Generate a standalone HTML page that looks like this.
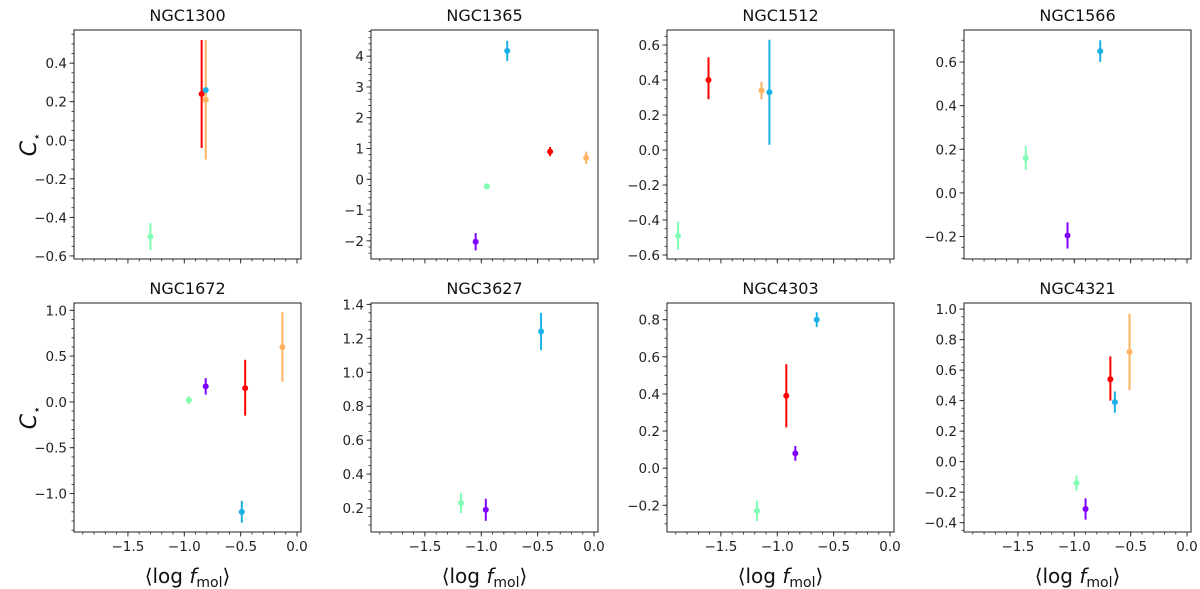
<!DOCTYPE html>
<html><head><meta charset="utf-8"><style>
body{margin:0;background:#fff;}
svg{display:block;font-family:"DejaVu Sans","Liberation Sans",sans-serif;}
</style></head><body>
<svg id="fig" width="1200" height="589" viewBox="0 0 1200 589"></svg>
<script>
const galaxies = ["NGC1300","NGC1365","NGC1512","NGC1566","NGC1672","NGC3627","NGC4303","NGC4321"];
const yLims = [[-0.616,0.572],[-2.59,4.85],[-0.623,0.686],[-0.303,0.747],[-1.42,1.08],[0.059,1.408],[-0.344,0.89],[-0.461,1.04]];
const yTickVals = [[-0.6,-0.4,-0.2,0.0,0.2,0.4],[-2,-1,0,1,2,3,4],[-0.6,-0.4,-0.2,0.0,0.2,0.4,0.6],[-0.2,0.0,0.2,0.4,0.6],[-1.0,-0.5,0.0,0.5,1.0],[0.2,0.4,0.6,0.8,1.0,1.2,1.4],[-0.2,0.0,0.2,0.4,0.6,0.8],[-0.4,-0.2,0.0,0.2,0.4,0.6,0.8,1.0]];
const yTickLabels = [["−0.6","−0.4","−0.2","0.0","0.2","0.4"],["−2","−1","0","1","2","3","4"],["−0.6","−0.4","−0.2","0.0","0.2","0.4","0.6"],["−0.2","0.0","0.2","0.4","0.6"],["−1.0","−0.5","0.0","0.5","1.0"],["0.2","0.4","0.6","0.8","1.0","1.2","1.4"],["−0.2","0.0","0.2","0.4","0.6","0.8"],["−0.4","−0.2","0.0","0.2","0.4","0.6","0.8","1.0"]];
const yMinorStep = [0.05,0.2,0.05,0.05,0.1,0.05,0.05,0.05];
const xLim = [-1.978,0.035];
const xTickVals = [-1.5,-1.0,-0.5,0.0];
const xTickLabels = ["−1.5","−1.0","−0.5","0.0"];
// per-galaxy series: [color, x, y, errLow, errHigh]
const seriesColors = {purple:"#8000ff",cyan:"#1ab2e6",green:"#80feb3",orange:"#ffb360",red:"#ff0000"};
const ngc1300 = [["green",-1.30,-0.50,-0.57,-0.43],["red",-0.846,0.24,-0.04,0.52],["orange",-0.81,0.21,-0.10,0.52],["cyan",-0.81,0.26,0.25,0.27]];
const ngc1365 = [["cyan",-0.77,4.17,3.84,4.50],["red",-0.39,0.90,0.75,1.05],["orange",-0.07,0.70,0.50,0.90],["green",-0.95,-0.23,-0.28,-0.18],["purple",-1.05,-2.03,-2.31,-1.75]];
const ngc1512 = [["red",-1.61,0.40,0.29,0.53],["orange",-1.14,0.34,0.29,0.39],["cyan",-1.07,0.33,0.03,0.63],["green",-1.88,-0.49,-0.57,-0.41]];
const ngc1566 = [["green",-1.43,0.16,0.105,0.215],["purple",-1.06,-0.195,-0.255,-0.135],["cyan",-0.77,0.65,0.60,0.70]];
const ngc1672 = [["green",-0.96,0.02,-0.02,0.06],["purple",-0.81,0.17,0.08,0.26],["red",-0.46,0.15,-0.15,0.46],["orange",-0.13,0.60,0.22,0.98],["cyan",-0.49,-1.20,-1.32,-1.08]];
const ngc3627 = [["cyan",-0.47,1.24,1.13,1.35],["green",-1.18,0.23,0.17,0.29],["purple",-0.96,0.19,0.125,0.255]];
const ngc4303 = [["cyan",-0.65,0.80,0.76,0.84],["red",-0.92,0.39,0.22,0.56],["purple",-0.84,0.08,0.04,0.12],["green",-1.18,-0.23,-0.285,-0.175]];
const ngc4321 = [["orange",-0.51,0.72,0.47,0.97],["red",-0.68,0.54,0.40,0.69],["cyan",-0.64,0.39,0.32,0.46],["green",-0.98,-0.14,-0.19,-0.09],["purple",-0.90,-0.31,-0.38,-0.24]];
const allSeries = [ngc1300,ngc1365,ngc1512,ngc1566,ngc1672,ngc3627,ngc4303,ngc4321];

const NS="http://www.w3.org/2000/svg";
const svg=document.getElementById('fig');
const colL=[74,371,667,964], W=227;
const rowT=[30,303], H=229;
function mk(tag,attrs,parent){const e=document.createElementNS(NS,tag);for(const k in attrs)e.setAttribute(k,attrs[k]);(parent||svg).appendChild(e);return e;}

for(let p=0;p<8;p++){
  const c=p%4, r=Math.floor(p/4);
  const L=colL[c], T=rowT[r];
  const g=mk('g',{});
  
  
  const xs=v=>L+(v-xLim[0])/(xLim[1]-xLim[0])*W;
  const [y0,y1]=yLims[p];
  const ys=v=>T+H-(v-y0)/(y1-y0)*H;
  const t=mk('text',{x:L+W/2,y:T-9,'text-anchor':'middle','font-size':16,fill:'#111'},g);
  t.textContent=galaxies[p];
  
  
  for(let v=-1.9;v<=0.0001;v+=0.1){const px=xs(v);mk('line',{x1:px,x2:px,y1:T+H,y2:T+H+2.5,stroke:'#222','stroke-width':0.8},g);}
  xTickVals.forEach((v,i)=>{const px=xs(v);mk('line',{x1:px,x2:px,y1:T+H,y2:T+H+4.5,stroke:'#222','stroke-width':0.9},g);
    if(r===1){const tl=mk('text',{x:px,y:T+H+19,'text-anchor':'middle','font-size':13.5,fill:'#222'},g);tl.textContent=xTickLabels[i];
      
      }});
  const ms=yMinorStep[p];
  for(let k=Math.ceil(y0/ms);k*ms<=y1;k++){const py=ys(k*ms);mk('line',{x1:L-2.5,x2:L,y1:py,y2:py,stroke:'#222','stroke-width':0.8},g);}
  yTickVals[p].forEach((v,i)=>{const py=ys(v);mk('line',{x1:L-4.5,x2:L,y1:py,y2:py,stroke:'#222','stroke-width':0.9},g);
    const tl=mk('text',{x:L-7,y:py+5,'text-anchor':'end','font-size':13.5,fill:'#222'},g);tl.textContent=yTickLabels[p][i];
    
    });
  allSeries[p].forEach(s=>{
    const col=seriesColors[s[0]], px=xs(s[1]);
    const eb=mk('line',{x1:px,x2:px,y1:ys(s[3]),y2:ys(s[4]),stroke:col,'stroke-width':2},g);
    
    
    const pt=mk('circle',{cx:px,cy:ys(s[2]),r:3,fill:col},g);
    
    
  });
  const fr=mk('rect',{x:L,y:T,width:W,height:H,fill:'none',stroke:'#222','stroke-width':1},g);
  
  
  if(c===0){const yl=mk('text',{x:0,y:0,'text-anchor':'middle','font-size':22,fill:'#111',transform:`translate(36,${T+H/2}) rotate(-90)`},g);
    yl.innerHTML='<tspan font-style="italic">C</tspan><tspan font-size="13" dy="5">⋆</tspan>';
    
    }
  if(r===1){const xl=mk('text',{x:L+W/2,y:583,'text-anchor':'middle','font-size':20,fill:'#111'},g);
    xl.innerHTML='⟨log <tspan font-style="italic">f</tspan><tspan font-size="14" dy="4">mol</tspan><tspan dy="-4">⟩</tspan>';
    
    }
}
</script>
</body></html>
